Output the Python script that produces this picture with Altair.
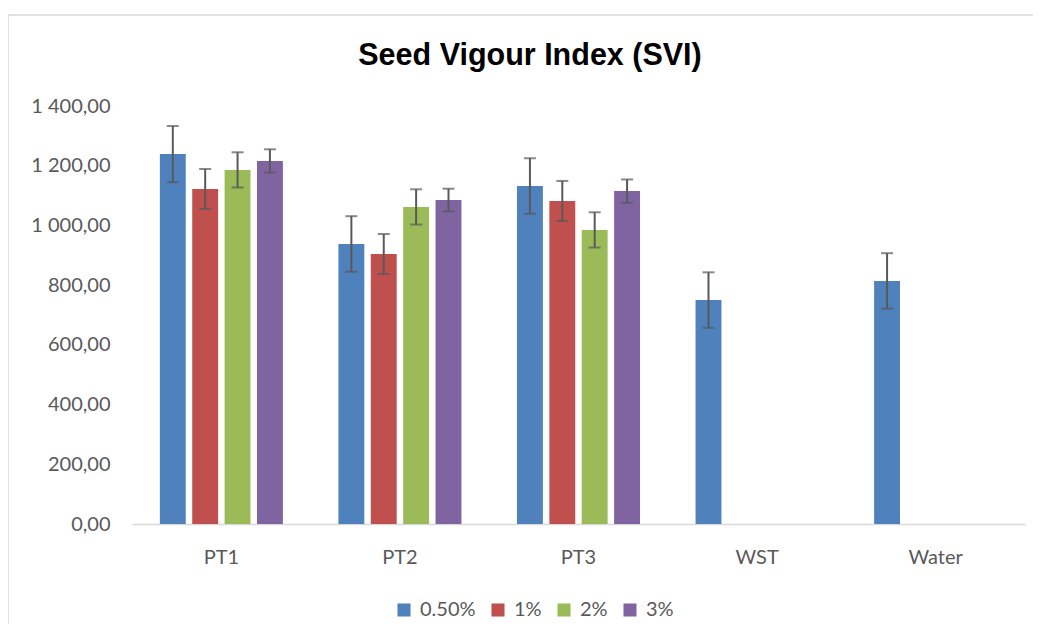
import altair as alt
import pandas as pd

categories = ["PT1", "PT2", "PT3", "WST", "Water"]
series = ["0.50%", "1%", "2%", "3%"]
colors = ["#4F81BD", "#C0504D", "#9BBB59", "#8064A2"]
title_text = "Seed Vigour Index (SVI)"

vals_050 = [1239, 938, 1132, 750, 814]
err_050 = [94, 93, 93, 93, 93]
vals_1 = [1122, 904, 1082]
err_1 = [67, 67, 67]
vals_2 = [1186, 1062, 985]
err_2 = [59, 59, 59]
vals_3 = [1216, 1085, 1115]
err_3 = [39, 38, 39]

rows = []
for s, vals, errs in [("0.50%", vals_050, err_050), ("1%", vals_1, err_1),
                      ("2%", vals_2, err_2), ("3%", vals_3, err_3)]:
    for c, v, e in zip(categories, vals, errs):
        rows.append({"cat": c, "series": s, "value": v, "lo": v - e, "hi": v + e})
df = pd.DataFrame(rows)

FONT = "Lato"
GRAY = "#595959"
FS = 20

x_enc = alt.X("cat:N", sort=categories,
              scale=alt.Scale(domain=categories, paddingInner=0.311, paddingOuter=0.156),
              axis=alt.Axis(title=None, labelAngle=0, ticks=False, domainColor="#D9D9D9",
                            domainWidth=1.5, labelFont=FONT, labelFontSize=FS,
                            labelColor=GRAY, labelPadding=23, grid=False))
xo_enc = alt.XOffset("series:N", sort=series,
                     scale=alt.Scale(domain=series, paddingInner=0.2, paddingOuter=0))

base = alt.Chart(df)

bars = base.mark_bar().encode(
    x=x_enc,
    xOffset=xo_enc,
    y=alt.Y("value:Q", scale=alt.Scale(domain=[0, 1400], nice=False),
            axis=alt.Axis(title=None, values=list(range(0, 1401, 200)), domain=False,
                          ticks=False, grid=False, labelFont=FONT, labelFontSize=FS,
                          labelColor=GRAY, labelPadding=22,
                          labelExpr="replace(replace(format(datum.value, ',.2f'), ',', ' '), '.', ',')")),
    color=alt.Color("series:N", sort=series,
                    scale=alt.Scale(domain=series, range=colors),
                    legend=alt.Legend(title=None, orient="none", direction="horizontal",
                                      legendX=262, legendY=494, symbolType="square",
                                      symbolSize=170, symbolStrokeWidth=0,
                                      labelFont=FONT, labelFontSize=FS, labelColor=GRAY,
                                      columnPadding=12, labelOffset=6)),
)

rules = base.mark_rule(color=GRAY, strokeWidth=2).encode(
    x=x_enc, xOffset=xo_enc, y="lo:Q", y2="hi:Q")
cap_lo = base.mark_tick(color=GRAY, thickness=2, size=12).encode(
    x=x_enc, xOffset=xo_enc, y="lo:Q")
cap_hi = base.mark_tick(color=GRAY, thickness=2, size=12).encode(
    x=x_enc, xOffset=xo_enc, y="hi:Q")

one = pd.DataFrame({"t": [title_text]})
border = alt.Chart(one).mark_rect(
    fill=None, stroke="#D9D9D9", strokeWidth=1.5).encode(
    x=alt.value(-124), x2=alt.value(960), y=alt.value(-91), y2=alt.value(560))

title = alt.Chart(one).mark_text(
    font="Liberation Sans", fontSize=30.5, fontWeight="bold", color="#000000",
    align="center", baseline="middle").encode(
    text="t:N", x=alt.value(398), y=alt.value(-50))

chart = alt.layer(border, title, bars, rules, cap_lo, cap_hi).properties(
    width=893, height=418,
    autosize=alt.AutoSizeParams(type="none"),
    padding={"left": 124, "top": 98, "right": 8, "bottom": 100},
).configure_view(stroke=None)

chart.save("out.html", embed_options={"renderer": "svg", "actions": False})
